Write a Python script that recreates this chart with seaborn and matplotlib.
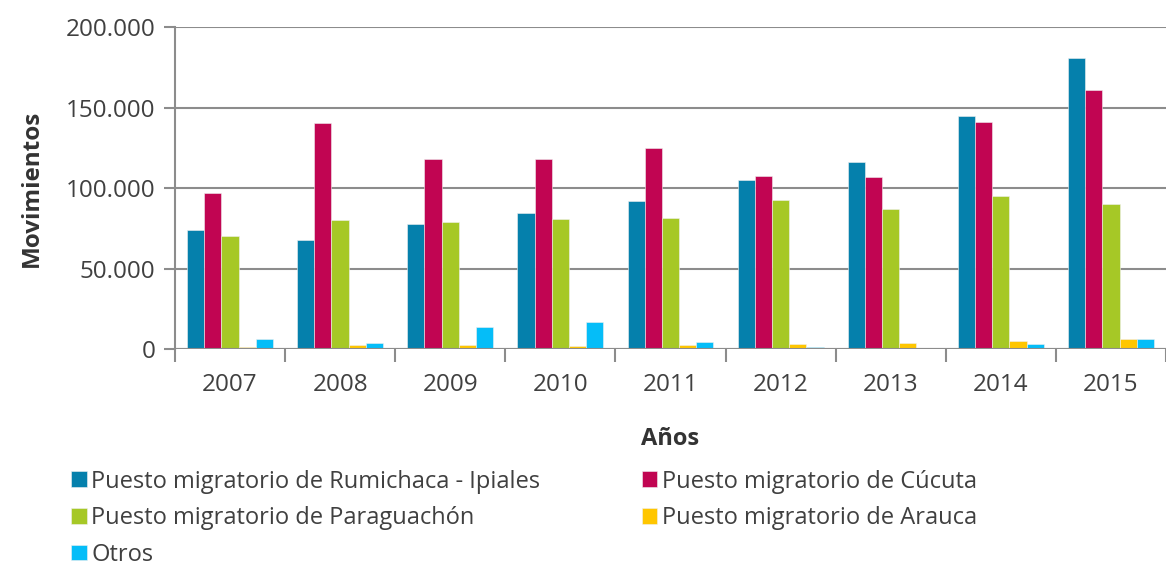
import pandas as pd
import matplotlib
matplotlib.use("Agg")
import matplotlib.pyplot as plt
import seaborn as sns
from matplotlib.ticker import FuncFormatter, FixedLocator

years = ["2007", "2008", "2009", "2010", "2011", "2012", "2013", "2014", "2015"]
rumichaca = [74100, 67900, 78000, 84500, 92300, 105000, 116300, 144700, 180700]
cucuta = [96900, 140400, 118200, 118200, 125200, 107600, 107000, 141200, 161000]
paraguachon = [70400, 80300, 78900, 80900, 81700, 92500, 87100, 95200, 90000]
arauca = [1600, 2700, 2700, 2200, 2700, 3100, 3900, 5200, 6200]
otros = [6400, 3700, 13700, 17100, 4500, 1400, 0, 3100, 6200]

series = ["Puesto migratorio de Rumichaca - Ipiales", "Puesto migratorio de Cúcuta",
          "Puesto migratorio de Paraguachón", "Puesto migratorio de Arauca", "Otros"]
colors = ["#0580AC", "#C10552", "#A6C826", "#FFC600", "#05BDF8"]

rows = []
for name, vals in zip(series, [rumichaca, cucuta, paraguachon, arauca, otros]):
    for y, v in zip(years, vals):
        rows.append({"Año": y, "Serie": name, "Movimientos": v})
df = pd.DataFrame(rows)

sns.set_style("white")
plt.rcParams["font.family"] = ["Open Sans", "DejaVu Sans"]

fig = plt.figure(figsize=(11.66, 5.65), dpi=100)
ax = fig.add_axes([0.150, 0.382, 0.850, 0.570])

sns.barplot(data=df, x="Año", y="Movimientos", hue="Serie", hue_order=series,
            palette=colors, width=0.78, edgecolor="#f0f0f0", linewidth=0.4,
            saturation=1, ax=ax, legend=True)

ax.set_ylim(0, 200000)
ax.set_xlim(-0.5, 8.5)
ax.yaxis.set_major_locator(FixedLocator([0, 50000, 100000, 150000, 200000]))
ax.yaxis.set_major_formatter(FuncFormatter(lambda v, p: f"{int(v):,}".replace(",", ".")))
ax.grid(axis="y", color="#8c8c8c", linewidth=1.5)
ax.set_axisbelow(True)

for s in ["top", "right", "bottom"]:
    ax.spines[s].set_visible(False)
ax.spines["left"].set_color("#8c8c8c")
ax.spines["left"].set_linewidth(1.5)
ax.axhline(0, color="#8c8c8c", linewidth=1.5, zorder=5)

ax.tick_params(axis="y", length=8, width=1.5, color="#8c8c8c", labelsize=17.5,
               labelcolor="#404040", pad=6, left=True)
ax.tick_params(axis="x", which="major", length=0, labelsize=17.5, labelcolor="#404040", pad=17)
ax.set_xticks([i - 0.5 for i in range(10)], minor=True)
ax.tick_params(axis="x", which="minor", length=9, width=1.5, color="#8c8c8c", bottom=True)

ax.set_xlabel("Años", fontsize=17, fontweight="bold", color="#333333", labelpad=22)
ax.set_ylabel("Movimientos", fontsize=17.5, fontweight="bold", color="#333333", labelpad=16)

handles, labels = ax.get_legend_handles_labels()
ax.get_legend().remove()
order = [0, 2, 4, 1, 3]
fig.legend([handles[i] for i in order], [labels[i] for i in order], ncol=2,
           loc="upper left", bbox_to_anchor=(0.047, 0.198),
           frameon=False, fontsize=17, handlelength=0.65, handleheight=0.65,
           handletextpad=0.2, columnspacing=4.3, labelspacing=0.53, labelcolor="#404040",
           borderpad=0.2)

fig.savefig("out.png", dpi=100)
